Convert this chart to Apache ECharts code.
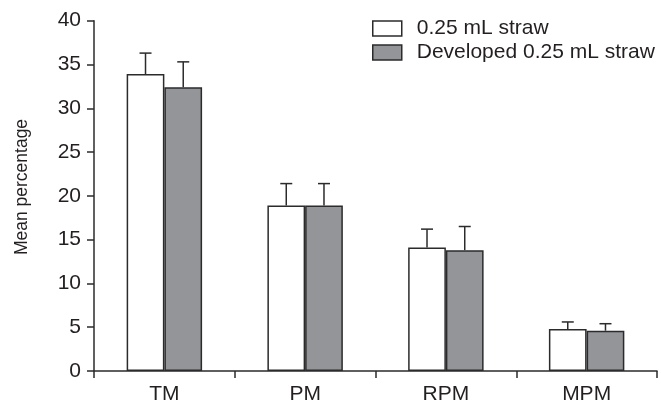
<!DOCTYPE html>
<html>
<head>
<meta charset="utf-8">
<script src="https://cdn.jsdelivr.net/npm/echarts@6/dist/echarts.min.js"></script>
<style>
html,body{margin:0;padding:0;background:#fff;}
#chart{width:661px;height:405px;}
</style>
</head>
<body>
<div id="chart"></div>
<script>
var categories = ['TM', 'PM', 'RPM', 'MPM'];
var seriesNames = ['0.25 mL straw', 'Developed 0.25 mL straw'];
var standardMeans = [33.9, 18.9, 14.1, 4.8];
var standardErrTop = [36.3, 21.4, 16.2, 5.6];
var developedMeans = [32.4, 18.9, 13.8, 4.6];
var developedErrTop = [35.3, 21.4, 16.5, 5.4];
var yTicks = [0, 5, 10, 15, 20, 25, 30, 35, 40];

var BAR_FRAC = 0.268;
var ink = '#2b2b2b';
var txt = '#231f20';
var font = 'Liberation Sans, Arial, sans-serif';

function errSeries(means, tops, side) {
  var data = categories.map(function (c, i) { return [i, means[i], tops[i]]; });
  return {
    type: 'custom',
    z: 5,
    silent: true,
    data: data,
    encode: { x: 0, y: [1, 2] },
    renderItem: function (params, api) {
      var idx = api.value(0);
      var band = api.size([1, 0])[0];
      var bw = band * BAR_FRAC;
      var c0 = api.coord([idx, api.value(1)]);
      var c1 = api.coord([idx, api.value(2)]);
      var x = c0[0] + side * bw / 2;
      var cap = 6;
      return {
        type: 'group',
        children: [
          { type: 'line', shape: { x1: x, y1: c0[1], x2: x, y2: c1[1] }, style: { stroke: ink, lineWidth: 1.5 } },
          { type: 'line', shape: { x1: x - cap, y1: c1[1], x2: x + cap, y2: c1[1] }, style: { stroke: ink, lineWidth: 1.5 } }
        ]
      };
    }
  };
}

var chart = echarts.init(document.getElementById('chart'), null, { renderer: 'canvas' });
chart.setOption({
  animation: false,
  backgroundColor: '#fff',
  textStyle: { fontFamily: font },
  grid: { left: 94, right: 4, top: 20.7, bottom: 32.3, containLabel: false },
  legend: {
    orient: 'vertical',
    left: 372,
    top: 17.5,
    padding: 0,
    itemWidth: 29,
    itemHeight: 15,
    itemGap: 2,
    icon: 'rect',
    textStyle: { fontSize: 21, color: txt, fontFamily: font, padding: [0, 0, 0, 10], lineHeight: 22 },
    data: [
      { name: seriesNames[0], itemStyle: { color: '#ffffff', borderColor: ink, borderWidth: 1.5 } },
      { name: seriesNames[1], itemStyle: { color: '#939598', borderColor: ink, borderWidth: 1.5 } }
    ]
  },
  xAxis: {
    type: 'category',
    data: categories,
    axisLine: { lineStyle: { color: ink, width: 1.5 } },
    axisTick: { show: true, length: 7, inside: false, alignWithLabel: false, lineStyle: { color: ink, width: 1.5 } },
    axisLabel: { fontSize: 21, color: txt, margin: 13, fontFamily: font },
    splitLine: { show: false }
  },
  yAxis: {
    type: 'value',
    min: 0,
    max: 40,
    interval: 5,
    axisLine: { show: true, lineStyle: { color: ink, width: 1.5 } },
    axisTick: { show: true, length: 7, lineStyle: { color: ink, width: 1.5 } },
    axisLabel: {
      fontSize: 21, color: txt, margin: 13, fontFamily: font,
      formatter: function (v) { return yTicks.indexOf(v) >= 0 ? String(v) : ''; }
    },
    splitLine: { show: false }
  },
  graphic: [{
    type: 'text',
    x: 22,
    y: 187,
    rotation: Math.PI / 2,
    style: { text: 'Mean percentage', fontSize: 17.5, fill: txt, fontFamily: font, align: 'center', verticalAlign: 'middle' }
  }],
  series: [
    {
      name: seriesNames[0],
      type: 'bar',
      data: standardMeans,
      barWidth: (BAR_FRAC * 100) + '%',
      barGap: '0%',
      itemStyle: { color: '#ffffff', borderColor: ink, borderWidth: 1.5 }
    },
    {
      name: seriesNames[1],
      type: 'bar',
      data: developedMeans,
      barWidth: (BAR_FRAC * 100) + '%',
      barGap: '0%',
      itemStyle: { color: '#939598', borderColor: ink, borderWidth: 1.5 }
    },
    errSeries(standardMeans, standardErrTop, -1),
    errSeries(developedMeans, developedErrTop, 1)
  ]
});
</script>
</body>
</html>
